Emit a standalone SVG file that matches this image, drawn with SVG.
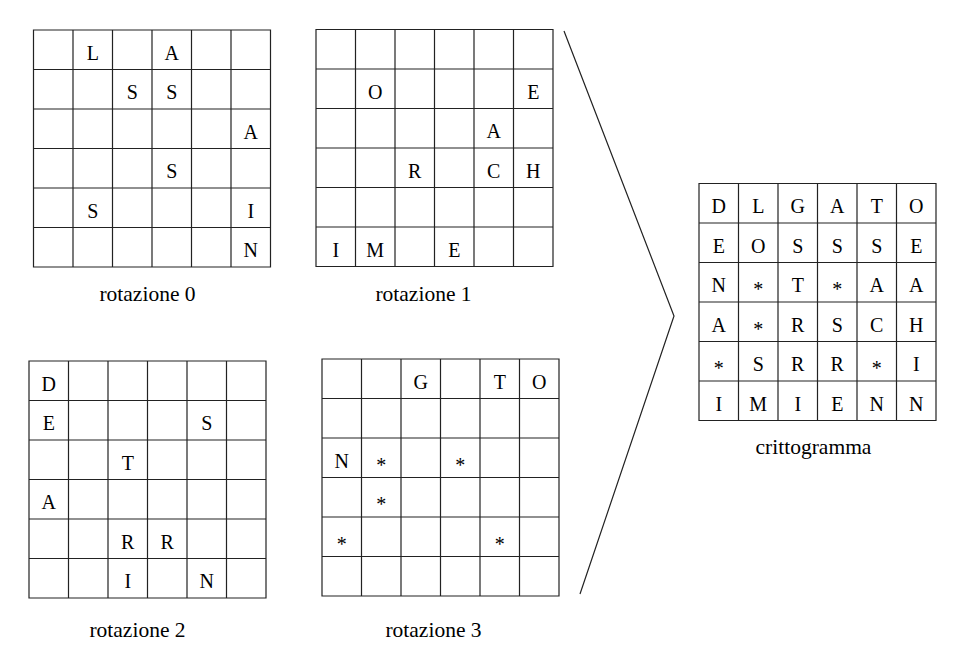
<svg xmlns="http://www.w3.org/2000/svg" xmlns:xlink="http://www.w3.org/1999/xlink" width="967" height="647" viewBox="0 0 967 647">
<style>
  .gl { fill: none; stroke: #222; stroke-width: 1.2; }
  .ch { font-family: "Liberation Serif", "Times New Roman", serif; font-size: 20px; fill: #000; text-anchor: middle; }
  .ast { font-family: "Liberation Serif", "Times New Roman", serif; font-size: 20px; fill: #000; text-anchor: middle; }
  .lbl { font-family: "Liberation Serif", "Times New Roman", serif; font-size: 21.5px; fill: #000; text-anchor: middle; }
  .conn { fill: none; stroke: #222; stroke-width: 1.2; }
</style>
<defs>
  <path id="grid" class="gl" d="M0,0 H237 V237 H0 Z M0,39.5 H237 M0,79 H237 M0,118.5 H237 M0,158 H237 M0,197.5 H237 M39.5,0 V237 M79,0 V237 M118.5,0 V237 M158,0 V237 M197.5,0 V237"/>
</defs>
<rect x="0" y="0" width="967" height="647" fill="#fff"/>

<g id="rotazione0" transform="translate(33.5,30)">
  <use xlink:href="#grid" href="#grid"/>
  <text class="ch" x="59.25" y="29.5">L</text>
  <text class="ch" x="138.25" y="29.5">A</text>
  <text class="ch" x="98.75" y="69">S</text>
  <text class="ch" x="138.25" y="69">S</text>
  <text class="ch" x="217.25" y="108.5">A</text>
  <text class="ch" x="138.25" y="148">S</text>
  <text class="ch" x="59.25" y="187.5">S</text>
  <text class="ch" x="217.25" y="187.5">I</text>
  <text class="ch" x="217.25" y="227">N</text>
</g>
<text id="label0" class="lbl" x="147.5" y="301">rotazione 0</text>

<g id="rotazione1" transform="translate(316,29.5)">
  <use xlink:href="#grid" href="#grid"/>
  <text class="ch" x="59.25" y="69">O</text>
  <text class="ch" x="217.25" y="69">E</text>
  <text class="ch" x="177.75" y="108.5">A</text>
  <text class="ch" x="98.75" y="148">R</text>
  <text class="ch" x="177.75" y="148">C</text>
  <text class="ch" x="217.25" y="148">H</text>
  <text class="ch" x="19.75" y="227">I</text>
  <text class="ch" x="59.25" y="227">M</text>
  <text class="ch" x="138.25" y="227">E</text>
</g>
<text id="label1" class="lbl" x="423.5" y="301">rotazione 1</text>

<g id="rotazione2" transform="translate(29,361)">
  <use xlink:href="#grid" href="#grid"/>
  <text class="ch" x="19.75" y="29.5">D</text>
  <text class="ch" x="19.75" y="69">E</text>
  <text class="ch" x="177.75" y="69">S</text>
  <text class="ch" x="98.75" y="108.5">T</text>
  <text class="ch" x="19.75" y="148">A</text>
  <text class="ch" x="98.75" y="187.5">R</text>
  <text class="ch" x="138.25" y="187.5">R</text>
  <text class="ch" x="98.75" y="227">I</text>
  <text class="ch" x="177.75" y="227">N</text>
</g>
<text id="label2" class="lbl" x="137.5" y="637">rotazione 2</text>

<g id="rotazione3" transform="translate(322,359)">
  <use xlink:href="#grid" href="#grid"/>
  <text class="ch" x="98.75" y="29.5">G</text>
  <text class="ch" x="177.75" y="29.5">T</text>
  <text class="ch" x="217.25" y="29.5">O</text>
  <text class="ch" x="19.75" y="108.5">N</text>
  <text class="ast" x="59.25" y="112.5">*</text>
  <text class="ast" x="138.25" y="112.5">*</text>
  <text class="ast" x="59.25" y="152">*</text>
  <text class="ast" x="19.75" y="191.5">*</text>
  <text class="ast" x="177.75" y="191.5">*</text>
</g>
<text id="label3" class="lbl" x="433.5" y="637">rotazione 3</text>

<g id="crittogramma" transform="translate(699,183.5)">
  <use xlink:href="#grid" href="#grid"/>
  <text class="ch" x="19.75" y="29.5">D</text>
  <text class="ch" x="59.25" y="29.5">L</text>
  <text class="ch" x="98.75" y="29.5">G</text>
  <text class="ch" x="138.25" y="29.5">A</text>
  <text class="ch" x="177.75" y="29.5">T</text>
  <text class="ch" x="217.25" y="29.5">O</text>
  <text class="ch" x="19.75" y="69">E</text>
  <text class="ch" x="59.25" y="69">O</text>
  <text class="ch" x="98.75" y="69">S</text>
  <text class="ch" x="138.25" y="69">S</text>
  <text class="ch" x="177.75" y="69">S</text>
  <text class="ch" x="217.25" y="69">E</text>
  <text class="ch" x="19.75" y="108.5">N</text>
  <text class="ast" x="59.25" y="112.5">*</text>
  <text class="ch" x="98.75" y="108.5">T</text>
  <text class="ast" x="138.25" y="112.5">*</text>
  <text class="ch" x="177.75" y="108.5">A</text>
  <text class="ch" x="217.25" y="108.5">A</text>
  <text class="ch" x="19.75" y="148">A</text>
  <text class="ast" x="59.25" y="152">*</text>
  <text class="ch" x="98.75" y="148">R</text>
  <text class="ch" x="138.25" y="148">S</text>
  <text class="ch" x="177.75" y="148">C</text>
  <text class="ch" x="217.25" y="148">H</text>
  <text class="ast" x="19.75" y="191.5">*</text>
  <text class="ch" x="59.25" y="187.5">S</text>
  <text class="ch" x="98.75" y="187.5">R</text>
  <text class="ch" x="138.25" y="187.5">R</text>
  <text class="ast" x="177.75" y="191.5">*</text>
  <text class="ch" x="217.25" y="187.5">I</text>
  <text class="ch" x="19.75" y="227">I</text>
  <text class="ch" x="59.25" y="227">M</text>
  <text class="ch" x="98.75" y="227">I</text>
  <text class="ch" x="138.25" y="227">E</text>
  <text class="ch" x="177.75" y="227">N</text>
  <text class="ch" x="217.25" y="227">N</text>
</g>
<text id="label4" class="lbl" x="813.5" y="454">crittogramma</text>

<g id="connectors">
  <polyline class="conn" points="564,31 674,316 580,594"/>
</g>
</svg>
